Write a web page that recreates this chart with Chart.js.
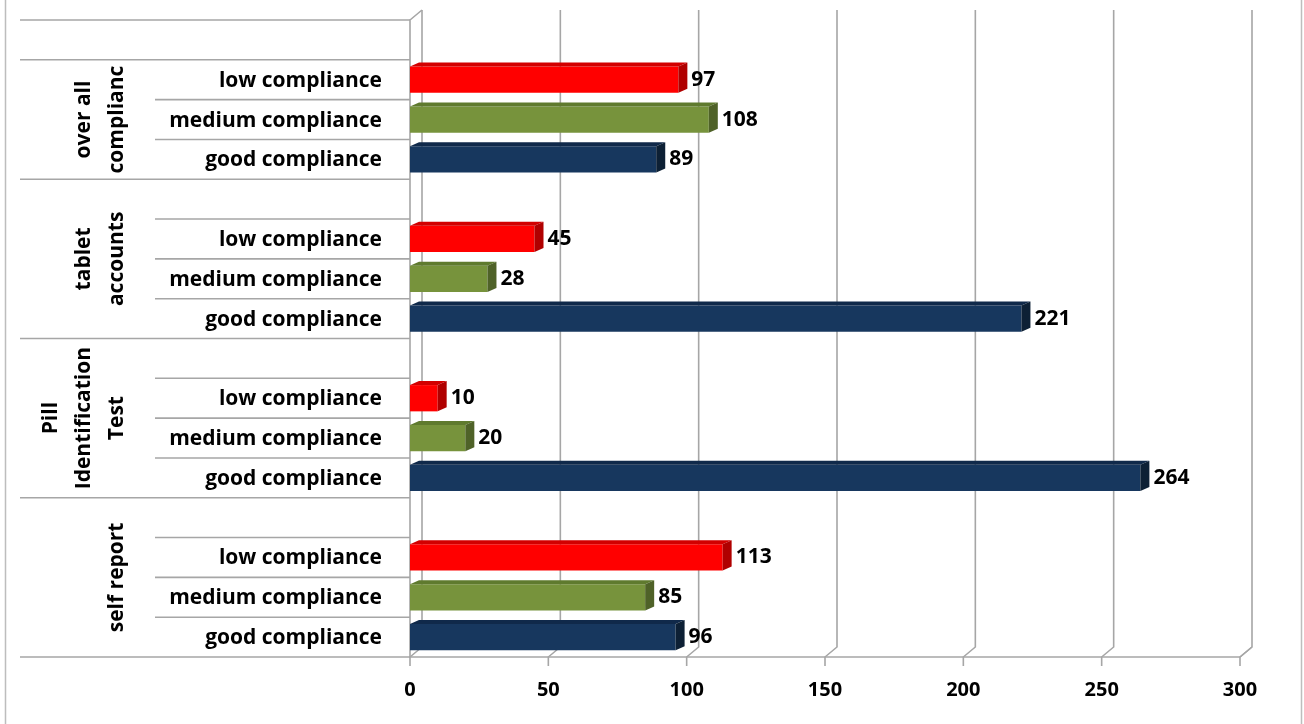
<!DOCTYPE html>
<html>
<head>
<meta charset="utf-8">
<script src="https://cdn.jsdelivr.net/npm/chart.js@4"></script>
<style>
  body { margin: 0; background: #fff; }
  #wrap { width: 1304px; height: 724px; }
</style>
</head>
<body>
<div id="wrap"><canvas id="chart" width="1304" height="724"></canvas></div>
<script>
const groupLines = [['over all', 'complianc'], ['tablet', 'accounts'], ['Pill', 'Identification', 'Test'], ['self report']];
const levels = ['low compliance', 'medium compliance', 'good compliance'];
const lowValues = [97, 45, 10, 113];
const mediumValues = [108, 28, 20, 85];
const goodValues = [89, 221, 264, 96];
const xMin = 0;
const xMax = 300;
const xStep = 50;

const frontColors = ['#FF0000', '#77933C', '#17375E'];
const topColors = ['#D20000', '#5F7A2E', '#10294A'];
const sideColors = ['#B00000', '#4F6228', '#0D2035'];
const FONT = '"Open Sans", "DejaVu Sans", sans-serif';

// one blank row on top of every group, then low / medium / good
const rowLabels = [];
const rowValues = [];
const rowLevel = [];
groupLines.forEach((g, i) => {
  rowLabels.push(''); rowValues.push(null); rowLevel.push(-1);
  [lowValues, mediumValues, goodValues].forEach((arr, k) => {
    rowLabels.push(levels[k]);
    rowValues.push(arr[i]);
    rowLevel.push(k);
  });
});

const DX = 12, DY = -10;   // wall depth
const BX = 9, BY = -4;     // bar depth

function rowTop(chart, i) {
  const a = chart.chartArea;
  return a.top + (a.bottom - a.top) * i / rowLabels.length;
}

const frame3d = {
  id: 'frame3d',
  beforeDatasetsDraw(chart) {
    const ctx = chart.ctx;
    const a = chart.chartArea;
    const xs = chart.scales.x;
    ctx.save();
    // outer frame
    ctx.strokeStyle = '#BDBDBD';
    ctx.lineWidth = 1.5;
    ctx.beginPath();
    ctx.moveTo(5.5, 0); ctx.lineTo(5.5, 724);
    ctx.moveTo(1301.5, 0); ctx.lineTo(1301.5, 724);
    ctx.stroke();

    ctx.strokeStyle = '#A6A6A6';
    ctx.lineWidth = 1.6;
    // gridlines on back wall with floor diagonals
    for (let v = xMin; v <= xMax; v += xStep) {
      const x = xs.getPixelForValue(v);
      ctx.beginPath();
      ctx.moveTo(x, a.bottom + 9);
      ctx.lineTo(x, a.bottom);
      ctx.lineTo(x + DX, a.bottom + DY);
      ctx.lineTo(x + DX, a.top + DY);
      ctx.stroke();
    }
    // left wall + floor
    ctx.beginPath();
    ctx.moveTo(a.left + DX, a.top + DY);
    ctx.lineTo(a.left, a.top);
    ctx.lineTo(a.left, a.bottom);
    ctx.lineTo(a.right, a.bottom);
    ctx.lineTo(a.right + DX, a.bottom + DY);
    ctx.stroke();

    // label column lines
    const n = rowLabels.length;
    for (let i = 0; i <= n; i++) {
      const y = rowTop(chart, i);
      const x0 = (i === 1 || i % 4 === 0) ? 20 : 155;
      ctx.beginPath();
      ctx.moveTo(x0, y);
      ctx.lineTo(a.left, y);
      ctx.stroke();
    }

    // row labels
    ctx.fillStyle = '#000';
    ctx.font = 'bold 21px ' + FONT;
    ctx.textAlign = 'right';
    ctx.textBaseline = 'middle';
    rowLabels.forEach((t, i) => {
      if (!t) return;
      const y = (rowTop(chart, i) + rowTop(chart, i + 1)) / 2;
      ctx.fillText(t, 382, y + 1);
    });

    // group labels, rotated
    ctx.textAlign = 'center';
    groupLines.forEach((lines, g) => {
      const start = g === 0 ? 1 : g * 4;
      const end = g * 4 + 4;
      const yc = (rowTop(chart, start) + rowTop(chart, end)) / 2;
      lines.forEach((t, k) => {
        const x = 117 - (lines.length - 1 - k) * 33;
        ctx.save();
        ctx.translate(x, yc);
        ctx.rotate(-Math.PI / 2);
        ctx.fillText(t, 0, 0);
        ctx.restore();
      });
    });
    ctx.restore();
  },
  afterDatasetsDraw(chart) {
    const ctx = chart.ctx;
    const meta = chart.getDatasetMeta(0);
    ctx.save();
    meta.data.forEach((bar, i) => {
      const k = rowLevel[i];
      if (k < 0 || rowValues[i] == null) return;
      const p = bar.getProps(['x', 'y', 'base', 'height'], true);
      const x0 = p.base, x1 = p.x;
      const yT = p.y - p.height / 2, yB = p.y + p.height / 2;
      ctx.fillStyle = topColors[k];
      ctx.beginPath();
      ctx.moveTo(x0, yT); ctx.lineTo(x0 + BX, yT + BY);
      ctx.lineTo(x1 + BX, yT + BY); ctx.lineTo(x1, yT);
      ctx.closePath(); ctx.fill();
      ctx.fillStyle = sideColors[k];
      ctx.beginPath();
      ctx.moveTo(x1, yT); ctx.lineTo(x1 + BX, yT + BY);
      ctx.lineTo(x1 + BX, yB + BY); ctx.lineTo(x1, yB);
      ctx.closePath(); ctx.fill();

      ctx.fillStyle = '#000';
      ctx.font = 'bold 21px ' + FONT;
      ctx.textAlign = 'left';
      ctx.textBaseline = 'middle';
      ctx.fillText(String(rowValues[i]), x1 + BX + 4, p.y);
    });
    ctx.restore();
  }
};

new Chart(document.getElementById('chart'), {
  type: 'bar',
  data: {
    labels: rowLabels,
    datasets: [{
      data: rowValues,
      backgroundColor: rowLevel.map(k => k < 0 ? 'rgba(0,0,0,0)' : frontColors[k]),
      borderWidth: 0,
      barPercentage: 0.66,
      categoryPercentage: 1
    }]
  },
  options: {
    indexAxis: 'y',
    responsive: false,
    animation: false,
    layout: { padding: { left: 410, right: 64, top: 20, bottom: 0 } },
    plugins: { legend: { display: false }, tooltip: { enabled: false } },
    scales: {
      x: {
        min: xMin,
        max: xMax,
        ticks: {
          stepSize: xStep,
          color: '#000',
          padding: 21,
          font: { family: FONT, weight: 'bold', size: 20 }
        },
        grid: { display: false, drawTicks: false },
        border: { display: false },
        afterFit(scale) { scale.height = 67; }
      },
      y: { display: false }
    }
  },
  plugins: [frame3d]
});
</script>
</body>
</html>
